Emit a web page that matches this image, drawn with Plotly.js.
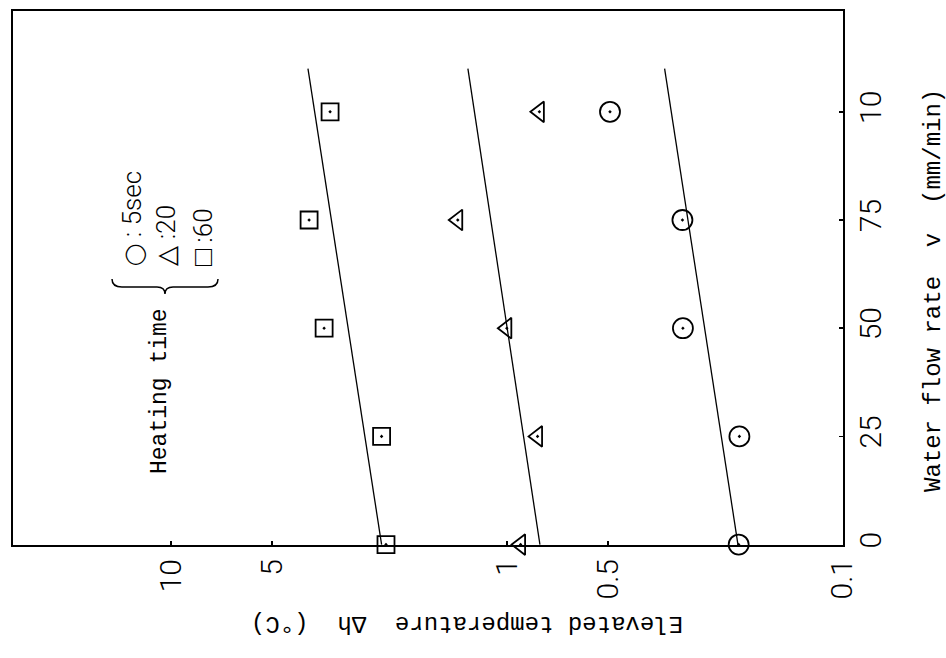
<!DOCTYPE html>
<html>
<head>
<meta charset="utf-8">
<script src="https://cdn.plot.ly/plotly-3.0.1.min.js"></script>
<style>html,body{margin:0;padding:0;background:#fff;}#chart{width:946px;height:658px;}</style>
</head>
<body>
<div id="chart"></div>
<script>
// ---- data ----
var flowRate = [0, 25, 50, 75, 100];            // mm/min
var temp5s  = [0.204, 0.203, 0.299, 0.30, 0.493]; // °C, heating 5 sec
var temp20s = [0.91, 0.81, 1.0, 1.40, 0.80];      // °C, heating 20 sec
var temp60s = [2.29, 2.36, 3.5, 3.88, 3.36];      // °C, heating 60 sec

var fitFlow = [0, 110];
var fit5s   = [0.205, 0.339];
var fit20s  = [0.797, 1.306];
var fit60s  = [2.36, 3.91];

var tempTickVals = [10, 5, 1, 0.5, 0.1];
var tempTickText = ['10', '5', '1', '0.5', '0.1'];
var flowTickVals = [0, 25, 50, 75, 100];
var flowTickText = ['0', '25', '50', '75', '10'];

var legendSymbols = ['\u25EF', '\u25B3', '\u25A1'];
var legendLabels  = ['\u00a0: 5sec', '\u00a0:20', '\u00a0:60'];

// ---- layout helpers ----
var L = 13, R = 843, T = 11, B = 545;
function px(x) { return (x - L) / (R - L); }
function py(y) { return (B - y) / (B - T); }

var mk = {color: 'black', line: {color: 'black', width: 1.8}};
function pts(temp, sym, size) {
  return {x: temp, y: flowRate, type: 'scatter', mode: 'markers',
    marker: Object.assign({symbol: sym, size: size}, mk), showlegend: false, cliponaxis: false};
}
function fit(temp) {
  return {x: temp, y: fitFlow, type: 'scatter', mode: 'lines',
    line: {color: 'black', width: 1.3}, showlegend: false};
}

var data = [
  fit(fit5s), fit(fit20s), fit(fit60s),
  pts(temp5s, 'circle-open-dot', 20),
  pts(temp20s, 'triangle-left-open-dot', 18),
  pts(temp60s, 'square-open-dot', 17)
];

var tickFont = {family: 'Roboto, DejaVu Sans, sans-serif', size: 30, color: 'black', weight: 300};
var monoFont = {family: 'Liberation Mono, DejaVu Sans Mono, monospace', size: 24, color: 'black'};

function bx(x) { return px(x).toFixed(4); }
function by(y) { return py(y).toFixed(4); }
var brace = 'M' + bx(112) + ',' + by(279) +
  ' Q' + bx(112) + ',' + by(287) + ' ' + bx(122) + ',' + by(287) +
  ' L' + bx(157) + ',' + by(287) +
  ' Q' + bx(165) + ',' + by(287) + ' ' + bx(165) + ',' + by(294) +
  ' Q' + bx(165) + ',' + by(287) + ' ' + bx(173) + ',' + by(287) +
  ' L' + bx(208) + ',' + by(287) +
  ' Q' + bx(218) + ',' + by(287) + ' ' + bx(218) + ',' + by(279);

var legX = [131, 165, 202];
var symSize = [20, 26, 28];
var annotations = [
  {text: 'Water flow rate\u00a0\u00a0v\u00a0\u00a0(mm/min)', xref: 'paper', yref: 'paper',
   x: px(933), y: py(291), textangle: -90, showarrow: false, font: monoFont,
   xanchor: 'center', yanchor: 'middle'},
  {text: 'Elevated temperature\u00a0\u00a0\u0394h\u00a0\u00a0(\u00b0C)', xref: 'paper', yref: 'paper',
   x: px(467), y: py(624), textangle: 180, showarrow: false, font: monoFont,
   xanchor: 'center', yanchor: 'middle'},
  {text: 'Heating time', xref: 'paper', yref: 'paper',
   x: px(160), y: py(391), textangle: -90, showarrow: false,
   font: {family: monoFont.family, size: 23, color: 'black'},
   xanchor: 'center', yanchor: 'middle'}
];
legendSymbols.forEach(function (s, i) {
  var t = '<span style="font-family:\'DejaVu Sans\';font-size:' + symSize[i] + 'px">' + s + '</span>' + legendLabels[i];
  annotations.push({text: t, xref: 'paper', yref: 'paper', x: px(legX[i]), y: py(268),
    textangle: -90, showarrow: false, xanchor: 'center', yanchor: 'bottom',
    font: {family: 'Roboto, DejaVu Sans, sans-serif', size: 26, color: 'black', weight: 300}});
});

var layout = {
  width: 946, height: 658,
  margin: {l: L, r: 946 - R, t: T, b: 658 - B, pad: 0},
  paper_bgcolor: 'white', plot_bgcolor: 'white',
  showlegend: false,
  xaxis: {type: 'log', range: [1.4705, -1.001], autorange: false,
    tickvals: tempTickVals, ticktext: tempTickText, tickangle: -90,
    ticks: 'inside', ticklen: 4, tickwidth: 1.5, tickcolor: 'black',
    showline: true, linewidth: 2, linecolor: 'black', mirror: true,
    showgrid: false, zeroline: false, tickfont: tickFont},
  yaxis: {range: [-0.1, 123.3], autorange: false, side: 'right',
    tickvals: flowTickVals, ticktext: flowTickText, tickangle: -90,
    ticks: 'inside', ticklen: 4, tickwidth: 1.5, tickcolor: 'black',
    showline: true, linewidth: 2, linecolor: 'black', mirror: true,
    showgrid: false, zeroline: false, tickfont: tickFont},
  shapes: [{type: 'path', xref: 'paper', yref: 'paper', path: brace,
    line: {color: 'black', width: 1.5}}],
  annotations: annotations
};

Plotly.newPlot('chart', data, layout, {staticPlot: true, displayModeBar: false});
</script>
</body>
</html>
